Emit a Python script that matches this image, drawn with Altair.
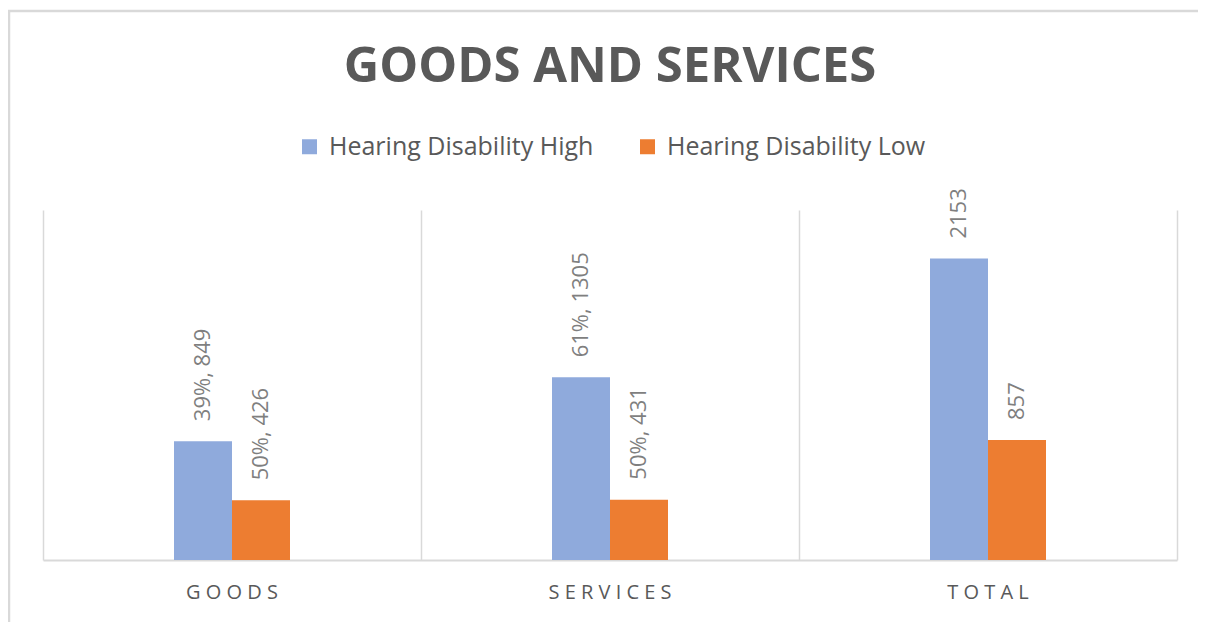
import altair as alt
import pandas as pd

categories = ["GOODS", "SERVICES", "TOTAL"]
series = ["Hearing Disability High", "Hearing Disability Low"]
high_values = [849, 1305, 2153]
low_values = [426, 431, 857]
high_labels = ["39%, 849", "61%, 1305", "2153"]
low_labels = ["50%, 426", "50%, 431", "857"]
colors = ["#8FAADC", "#ED7D31"]

rows = []
for c, v, l in zip(categories, high_values, high_labels):
    rows.append({"category": c, "series": series[0], "value": v, "label": l})
for c, v, l in zip(categories, low_values, low_labels):
    rows.append({"category": c, "series": series[1], "value": v, "label": l})
df = pd.DataFrame(rows)

W, H = 1134, 350
STEP = W / 3
BARW = 58
FONT = "Open Sans"

x_enc = alt.X(
    "category:N",
    sort=categories,
    scale=alt.Scale(paddingInner=0, paddingOuter=0),
    axis=alt.Axis(
        title=None,
        labelAngle=0,
        labelFont=FONT,
        labelFontSize=20,
        labelColor="#595959",
        labelPadding=22,
        labelExpr="join(split(datum.label, ''), ' ')",
        ticks=False,
        domain=True,
        domainColor="#d9d9d9",
        domainWidth=2,
        grid=True,
        gridColor="#d9d9d9",
        gridWidth=1.5,
        bandPosition=0,
    ),
)
xo_scale = alt.Scale(
    paddingInner=0, paddingOuter=0,
    range=[STEP / 2 - BARW, STEP / 2 + BARW],
)
y_enc = alt.Y(
    "value:Q",
    scale=alt.Scale(domain=[0, 2500], nice=False),
    axis=alt.Axis(
        orient="right",
        title=None,
        labels=False,
        ticks=False,
        grid=False,
        domain=True,
        domainColor="#d9d9d9",
        domainWidth=1.5,
    ),
)

bars = alt.Chart(df).mark_bar().encode(
    x=x_enc,
    xOffset=alt.XOffset("series:N", sort=series, scale=xo_scale),
    y=y_enc,
    color=alt.Color(
        "series:N",
        sort=series,
        scale=alt.Scale(domain=series, range=colors),
        legend=alt.Legend(
            title=None,
            orient="none",
            direction="horizontal",
            legendX=254,
            legendY=-76,
            symbolType="square",
            symbolSize=225,
            symbolStrokeWidth=0,
            labelFont=FONT,
            labelFontSize=25,
            labelColor="#595959",
            labelOffset=7,
            labelLimit=0,
            columnPadding=41,
        ),
    ),
)

labels = alt.Chart(df).mark_text(
    angle=270,
    align="left",
    baseline="middle",
    dx=20,
    font=FONT,
    fontSize=22,
    color="#7f7f7f",
).encode(
    x=alt.X("category:N", sort=categories),
    xOffset=alt.XOffset("series:N", sort=series),
    y="value:Q",
    text="label:N",
)

frame = alt.Chart(pd.DataFrame({"f": [0]})).mark_rect(
    fill=None, stroke="#d9d9d9", strokeWidth=2.5
).encode(
    x=alt.value(-34),
    x2=alt.value(W + 200),
    y=alt.value(-199),
    y2=alt.value(H + 300),
)

chart = alt.layer(frame, bars, labels).properties(
    width=W,
    height=H,
    title=alt.TitleParams(
        "GOODS AND SERVICES",
        font=FONT,
        fontSize=49,
        fontWeight="bold",
        color="#595959",
        anchor="middle",
        baseline="alphabetic",
        offset=0,
        dy=121,
    ),
    autosize=alt.AutoSizeParams(type="none"),
    padding={"left": 35, "top": 202, "right": 21, "bottom": 62},
).configure_view(stroke=None)

chart.save("out.html", embed_options={"renderer": "svg", "actions": False})
